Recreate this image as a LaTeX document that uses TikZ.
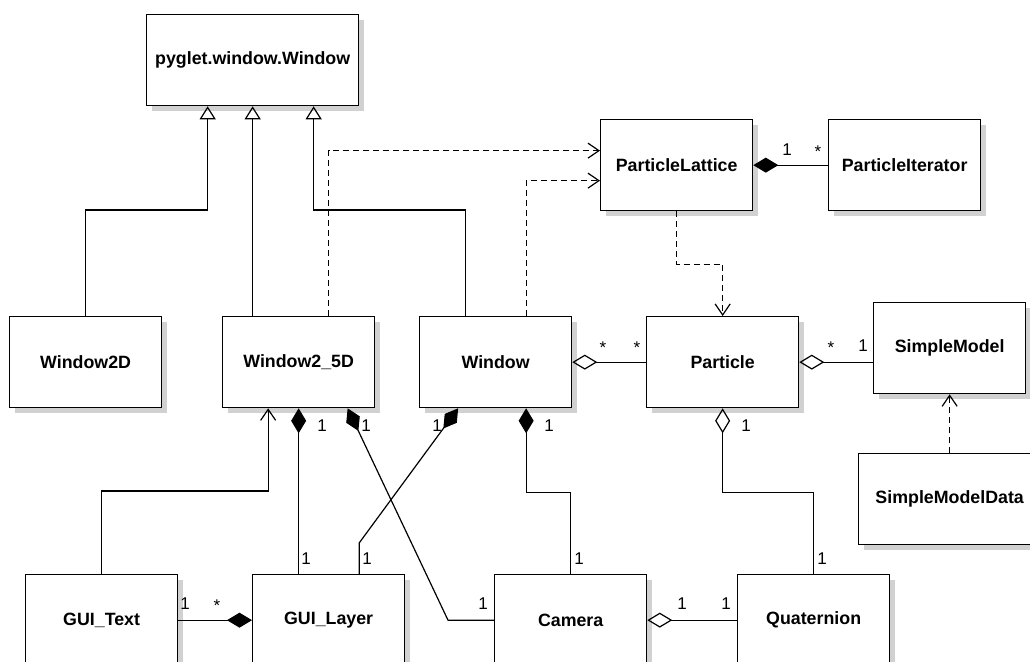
\documentclass[tikz,border=0pt]{standalone}
\usepackage{fontspec}
\newfontfamily\arialf{Liberation Sans}
\usetikzlibrary{arrows.meta,shadows,calc}
\tikzset{
  cls/.style={draw, line width=1.3pt, fill=white, inner sep=0pt, anchor=north west,
    minimum height=91pt, minimum width=152pt,
    font=\arialf\bfseries\fontsize{17.8}{20}\selectfont,
    drop shadow={shadow xshift=5pt, shadow yshift=-5pt, fill=black!18, opacity=1, draw=none}},
  conn/.style={line width=1.2pt},
  dep/.style={conn, dash pattern=on 6pt off 4pt, -{Straight Barb[length=11pt,width=15pt]}},
  gen/.style={conn, -{Triangle[open,length=13pt,width=16pt]}},
  nav/.style={conn, -{Straight Barb[length=11pt,width=15pt]}},
  comp/.style={conn, {Diamond[length=25pt,width=15pt]}-},
  aggr/.style={conn, {Diamond[open,length=25pt,width=15pt]}-},
  mult/.style={anchor=base, inner sep=0pt, font=\arialf\fontsize{17}{20}\selectfont}
}
\begin{document}
\begin{tikzpicture}[x=1pt,y=-1pt]
\useasboundingbox (0,0) rectangle (1030,661);
\clip (0,0) rectangle (1030,661);
% classes
\node[cls, minimum width=212pt] (pyg) at (146,14) {pyglet.window.Window};
\node[cls] (pl) at (600,119) {ParticleLattice};
\node[cls] (pi) at (828,119) {ParticleIterator};
\node[cls] (w2d) at (9,316) {Window2D};
\node[cls] (w25) at (222,316) {Window2\_5D};
\node[cls] (win) at (419,316) {Window};
\node[cls] (part) at (646,316) {Particle};
\node[cls] (sm) at (873,302) {SimpleModel};
\node[cls, minimum width=182pt] (smd) at (858,453) {SimpleModelData};
\node[cls] (gt) at (25,574) {GUI\_Text};
\node[cls] (gl) at (252,574) {GUI\_Layer};
\node[cls] (cam) at (494,574) {Camera};
\node[cls] (q) at (737,574) {Quaternion};
% bend points
\coordinate (b1) at ($(cam.west)+(-46,0)$);
\coordinate (b2) at ($(gl.north)+(30.5,-31)$);
% generalizations
\draw[gen] (w2d.north) -- ++(0,-106) -| ([xshift=-45pt]pyg.south);
\draw[gen] (pyg.south |- w25.north) -- (pyg.south);
\draw[gen] ([xshift=-30.5pt]win.north) -- ++(0,-106) -| ([xshift=61pt]pyg.south);
% dependencies
\draw[dep] ([xshift=30pt]w25.north) |- ([yshift=14.5pt]pl.west);
\draw[dep] ([xshift=30.5pt]win.north) |- ([yshift=-15.5pt]pl.west);
\draw[dep] (pl.south) -- ++(0,53) -| (part.north);
\draw[dep] (smd.north) -- (smd.north |- sm.south);
% navigable association
\draw[nav] (gt.north) -- ++(0,-83) -| ([xshift=-30.5pt]w25.south);
% compositions
\draw[comp] (pl.east) -- (pi.west);
\draw[comp] (w25.south) -- (w25.south |- gl.north);
\draw[comp] ([xshift=49pt]w25.south) -- (b1) -- (cam.west);
\draw[comp] ([xshift=-37.5pt]win.south) -- (b2) -- ([xshift=30.5pt]gl.north);
\draw[comp] ([xshift=30.5pt]win.south) -- ++(0,84) -| (cam.north);
\draw[comp] (gl.west) -- (gt.east);
% aggregations
\draw[aggr] (win.east) -- (part.west);
\draw[aggr] (part.east) -- (part.east -| sm.west);
\draw[aggr] (part.south) -- ++(0,84) -| (q.north);
\draw[aggr] (cam.east) -- (q.west);
% multiplicities
\node[mult] (m1) at (787,155.5) {1};
\node[mult] (m2) at (818,157) {*};
\node[mult] (m3) at (603,353) {*};
\node[mult] (m4) at (637,353) {*};
\node[mult] (m5) at (831,353) {*};
\node[mult] (m6) at (863,351.5) {1};
\node[mult] (m7) at (322,431.5) {1};
\node[mult] (m8) at (306,564.5) {1};
\node[mult] (m9) at (366,431.5) {1};
\node[mult] (m10) at (483,609.5) {1};
\node[mult] (m11) at (437,431.5) {1};
\node[mult] (m12) at (367,564.5) {1};
\node[mult] (m13) at (549,431.5) {1};
\node[mult] (m14) at (579,564.5) {1};
\node[mult] (m15) at (185,609.5) {1};
\node[mult] (m16) at (217,611) {*};
\node[mult] (m17) at (746,431.5) {1};
\node[mult] (m18) at (822,564.5) {1};
\node[mult] (m19) at (682,609.5) {1};
\node[mult] (m20) at (726,609.5) {1};
\end{tikzpicture}
\end{document}
